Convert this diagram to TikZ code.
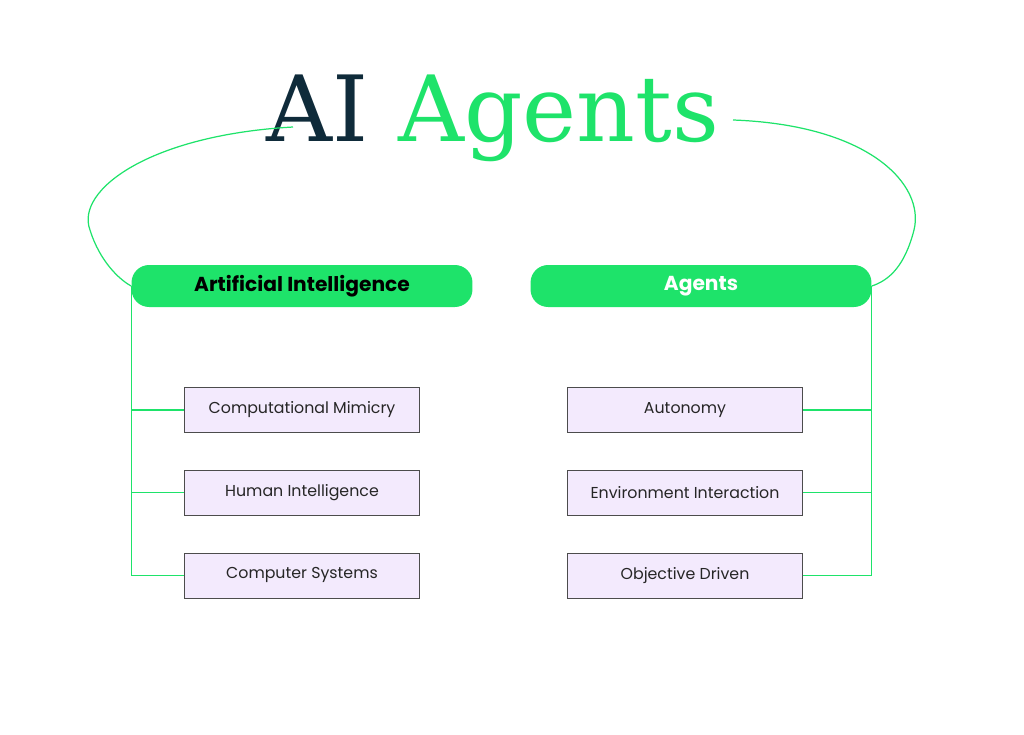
\documentclass[tikz,border=0pt]{standalone}
\usepackage{fontspec}
\setmainfont{Poppins}
\newfontfamily\titlefont{DejaVu Serif}
\usetikzlibrary{positioning}
\definecolor{aigreen}{HTML}{1EE36A}
\definecolor{ainavy}{HTML}{0F2B3A}
\definecolor{ailav}{HTML}{F3EAFD}
\begin{document}
\begin{tikzpicture}[
    x=0.02cm, y=-0.02cm,
    pill/.style={rectangle, rounded corners=10pt, fill=aigreen, minimum width=6.82cm, minimum height=0.84cm, font=\bfseries\fontsize{11.5}{13}\selectfont},
    item/.style={rectangle, draw=black!70, fill=ailav, minimum width=4.7cm, minimum height=0.9cm, font=\fontsize{9}{11}\selectfont, text=black!85},
    link/.style={aigreen, line width=0.7pt}
]
\useasboundingbox (0,0) rectangle (1024,734);

% title
\node[font=\titlefont\fontsize{52}{60}\selectfont] (title) at (493,118) {\textcolor{ainavy}{AI} \textcolor{aigreen}{Agents}};

% headings
\node[pill] (ai) at (302,286) {Artificial Intelligence};
\node[pill, text=white] (ag) at (701,286) {Agents};

% items
\node[item] (mim) at (302,410) {Computational Mimicry};
\node[item, below=0.74cm of mim] (hum) {Human Intelligence};
\node[item, below=0.74cm of hum] (sys) {Computer Systems};
\node[item] (aut) at (685,410) {Autonomy};
\node[item, below=0.74cm of aut] (env) {Environment Interaction};
\node[item, below=0.74cm of env] (obj) {Objective Driven};

% arcs
\draw[link] (293,127) .. controls (150,135) and (75,190) .. (90,230) .. controls (100,262) and (120,280) .. (ai.west);
\draw[link] (733,120) .. controls (870,125) and (925,185) .. (914,230) .. controls (905,265) and (890,280) .. (ag.east);

% branches
\draw[link] (ai.west) |- (sys.west);
\draw[link] (ai.west |- mim.west) -- (mim.west);
\draw[link] (ai.west |- hum.west) -- (hum.west);
\draw[link] (ag.east) |- (obj.east);
\draw[link] (ag.east |- aut.east) -- (aut.east);
\draw[link] (ag.east |- env.east) -- (env.east);
\end{tikzpicture}
\end{document}
